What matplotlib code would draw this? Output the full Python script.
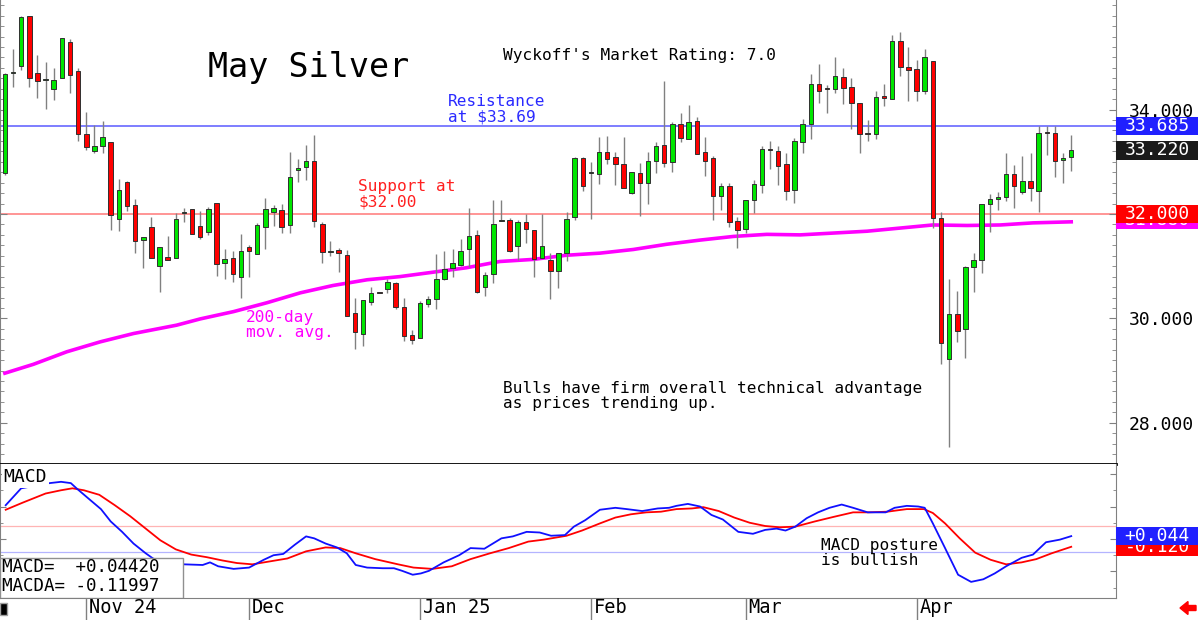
import numpy as np
import matplotlib
matplotlib.use("Agg")
import matplotlib.pyplot as plt
from matplotlib.patches import Rectangle, FancyArrow
from matplotlib.ticker import MultipleLocator, FixedLocator

plt.rcParams['font.family'] = ['DejaVu Sans Mono', 'DejaVu Sans']

# daily candles, May silver futures
opens = [32.78, 34.70, 34.84, 35.79, 34.71, 34.56, 34.39, 34.60, 35.30, 34.74,
         33.53, 33.21, 33.31, 33.37, 31.90, 32.61, 32.17, 31.50, 31.75, 31.00,
         31.17, 31.15, 32.02, 32.09, 31.77, 31.66, 32.21, 31.06, 31.16, 30.80,
         31.37, 31.23, 31.76, 32.03, 32.08, 31.78, 32.84, 32.91, 33.02, 31.81,
         31.28, 31.31, 31.21, 30.11, 29.70, 30.32, 30.50, 30.56, 30.67, 30.22,
         29.68, 29.63, 30.27, 30.37, 30.75, 30.97, 31.02, 31.33, 31.60, 30.61,
         30.85, 31.87, 31.89, 31.39, 31.84, 31.69, 31.15, 31.11, 30.91, 31.26,
         31.95, 33.07, 32.79, 32.77, 33.19, 33.09, 32.95, 32.41, 32.79, 32.59,
         33.02, 33.32, 33.00, 33.72, 33.44, 33.78, 33.18, 33.07, 32.35, 32.53,
         31.87, 31.71, 32.27, 32.56, 33.24, 33.21, 32.95, 32.46, 33.37, 33.72,
         34.50, 34.41, 34.39, 34.63, 34.43, 34.12, 33.54, 33.53, 34.26, 34.20,
         35.31, 34.82, 34.77, 34.36, 34.94, 31.92, 29.22, 30.08, 29.79, 30.99,
         31.12, 32.20, 32.28, 32.32, 32.77, 32.43, 32.64, 32.45, 33.57, 33.55,
         33.03, 33.09]
highs = [34.70, 35.17, 35.80, 35.80, 35.05, 34.92, 34.79, 35.38, 35.35, 34.79,
         33.95, 33.70, 33.78, 33.37, 32.67, 32.64, 32.28, 31.55, 31.94, 31.37,
         31.57, 32.01, 32.11, 32.09, 32.06, 32.14, 32.22, 31.32, 31.29, 31.61,
         31.40, 31.83, 32.31, 32.17, 32.19, 33.19, 33.05, 33.32, 33.51, 31.84,
         31.49, 31.34, 31.31, 30.40, 30.35, 30.61, 30.51, 30.75, 30.69, 30.39,
         29.78, 30.34, 30.43, 31.23, 31.29, 31.32, 31.53, 32.11, 31.69, 30.89,
         32.27, 32.27, 31.92, 31.89, 32.00, 31.69, 32.00, 31.25, 31.26, 32.04,
         33.10, 33.10, 33.00, 33.48, 33.49, 33.19, 33.47, 32.81, 32.97, 33.19,
         33.37, 34.55, 33.77, 33.94, 34.09, 33.86, 33.48, 33.11, 32.60, 32.59,
         31.95, 32.27, 32.65, 33.30, 33.39, 33.30, 33.16, 33.45, 33.82, 34.68,
         34.87, 34.47, 35.01, 34.79, 34.60, 34.12, 33.81, 34.36, 34.49, 35.43,
         35.48, 35.19, 34.96, 35.16, 34.94, 32.04, 30.75, 30.53, 31.00, 31.26,
         32.20, 32.38, 32.42, 33.16, 32.93, 33.11, 33.17, 33.69, 33.69, 33.69,
         33.16, 33.51]
lows = [32.75, 34.44, 34.76, 34.43, 34.22, 34.01, 34.18, 34.60, 34.32, 33.40,
        33.23, 33.17, 33.16, 31.69, 31.67, 32.06, 31.26, 30.97, 31.16, 30.50,
        31.11, 31.15, 31.84, 31.62, 31.53, 31.60, 30.82, 30.75, 30.70, 30.40,
        30.80, 31.23, 31.33, 31.77, 31.63, 31.64, 32.61, 32.66, 31.76, 31.06,
        31.20, 30.88, 30.05, 29.41, 29.47, 30.26, 30.48, 30.48, 30.18, 29.57,
        29.51, 29.63, 30.21, 30.18, 30.74, 30.79, 31.00, 30.99, 30.49, 30.42,
        30.67, 31.86, 31.28, 31.11, 31.45, 30.80, 31.15, 30.37, 30.58, 31.09,
        31.89, 32.45, 31.90, 32.57, 32.95, 32.56, 32.49, 32.38, 31.96, 32.20,
        32.78, 32.91, 32.80, 33.37, 33.44, 33.14, 32.73, 31.89, 32.08, 31.76,
        31.35, 31.64, 32.02, 32.40, 32.86, 32.56, 32.27, 32.22, 33.17, 33.43,
        34.13, 33.94, 34.32, 34.10, 33.62, 33.17, 33.39, 33.44, 34.07, 34.20,
        34.64, 34.16, 34.16, 34.29, 31.74, 29.12, 27.54, 29.55, 29.25, 30.51,
        30.86, 31.66, 32.08, 32.25, 32.11, 32.38, 32.25, 32.04, 33.13, 32.71,
        32.59, 32.82]
closes = [34.68, 34.72, 35.77, 34.61, 34.55, 34.57, 34.57, 35.38, 34.66, 33.53,
          33.29, 33.30, 33.47, 31.98, 32.46, 32.16, 31.49, 31.55, 31.16, 31.37,
          31.11, 31.90, 32.04, 31.62, 31.55, 32.09, 31.04, 31.14, 30.85, 31.30,
          31.29, 31.78, 32.09, 32.11, 31.76, 32.70, 32.89, 33.02, 31.87, 31.28,
          31.30, 31.25, 30.05, 29.73, 30.35, 30.49, 30.49, 30.69, 30.21, 29.66,
          29.59, 30.29, 30.37, 30.75, 30.95, 31.06, 31.30, 31.58, 30.51, 30.84,
          31.81, 31.89, 31.30, 31.84, 31.71, 31.14, 31.39, 30.91, 31.26, 31.90,
          33.07, 32.54, 32.81, 33.18, 33.05, 32.95, 32.49, 32.81, 32.59, 33.02,
          33.31, 32.98, 33.72, 33.45, 33.76, 33.15, 33.02, 32.35, 32.54, 31.85,
          31.69, 32.27, 32.57, 33.25, 33.22, 32.92, 32.45, 33.39, 33.72, 34.49,
          34.36, 34.40, 34.64, 34.41, 34.12, 33.53, 33.53, 34.24, 34.22, 35.31,
          34.82, 34.76, 34.36, 35.00, 31.93, 29.52, 30.08, 29.76, 30.98, 31.12,
          32.20, 32.28, 32.32, 32.77, 32.54, 32.64, 32.49, 33.56, 33.56, 33.02,
          33.08, 33.22]

# 200-day moving average (sampled along the line)
ma_idx = [0, 3.5, 7.6, 11.7, 15.8, 21.1, 24, 28.1, 32.2, 36.3, 40.3, 44.5, 48.5,
          56.7, 60.8, 64.9, 69, 73.1, 77.2, 81.3, 85.4, 89.5, 93.6, 97.7, 105.9,
          114, 118.2, 122.3, 126.3, 131]
ma_val = [28.95, 29.12, 29.36, 29.55, 29.71, 29.87, 29.99, 30.13, 30.30, 30.49,
          30.63, 30.74, 30.80, 30.97, 31.09, 31.13, 31.21, 31.25, 31.32, 31.42,
          31.50, 31.57, 31.61, 31.60, 31.67, 31.79, 31.78, 31.79, 31.83, 31.85]

# MACD (blue) and its signal line (red)
macd_idx = [0.1, 2.0, 5.5, 6.9, 8.1, 8.8, 10.2, 11.8, 13.0, 14.4, 15.8, 17.3, 18.2,
            20.1, 22.0, 24.3, 25.2, 26.2, 28.1, 30.0, 31.8, 33.0, 34.2, 35.6, 37.0,
            38.0, 39.4, 40.8, 42.0, 43.1, 44.5, 46.4, 47.8, 48.8, 50.1, 51.1, 52.1,
            53.9, 55.8, 57.2, 58.9, 61.0, 62.4, 64.1, 65.7, 67.1, 68.8, 69.9, 71.3,
            73.1, 75.0, 76.4, 78.3, 80.2, 81.6, 82.5, 83.9, 85.4, 86.8, 88.2, 90.1,
            91.9, 93.4, 94.8, 95.9, 97.1, 98.5, 99.9, 101.3, 102.8, 104.2, 106.0,
            108.2, 109.3, 110.8, 112.2, 113.0, 114.0, 115.5, 117.1, 118.7, 120.2,
            121.6, 123.0, 124.9, 126.3, 127.9, 129.6, 131.0]
macd_val = [0.52, 0.78, 0.86, 0.88, 0.86, 0.78, 0.63, 0.46, 0.27, 0.11, -0.07,
            -0.22, -0.30, -0.38, -0.39, -0.40, -0.36, -0.42, -0.46, -0.44, -0.32,
            -0.25, -0.23, -0.09, 0.04, 0.01, -0.07, -0.13, -0.22, -0.40, -0.44,
            -0.45, -0.45, -0.49, -0.55, -0.53, -0.49, -0.36, -0.25, -0.14, -0.15,
            0.01, 0.04, 0.11, 0.10, 0.05, 0.06, 0.19, 0.29, 0.45, 0.48, 0.46, 0.43,
            0.47, 0.48, 0.51, 0.54, 0.50, 0.37, 0.30, 0.11, 0.08, 0.14, 0.16, 0.13,
            0.19, 0.32, 0.41, 0.48, 0.53, 0.48, 0.41, 0.41, 0.48, 0.51, 0.50, 0.48,
            0.24, -0.14, -0.55, -0.66, -0.62, -0.53, -0.42, -0.29, -0.24, -0.05,
            -0.01, 0.044]
sig_idx = [0.1, 2.2, 5.0, 6.9, 8.3, 9.7, 11.6, 13.5, 15.4, 17.3, 19.1, 21.0, 22.9,
           24.8, 26.7, 28.5, 30.4, 32.3, 34.7, 37.0, 39.4, 41.2, 43.1, 45.5, 48.3,
           50.2, 52.5, 54.9, 57.2, 59.6, 61.9, 64.3, 66.2, 69.0, 70.9, 73.1, 75.0,
           76.9, 78.8, 80.6, 82.5, 84.4, 85.8, 87.7, 89.6, 91.5, 93.4, 95.2, 97.1,
           99.5, 101.8, 104.2, 106.0, 108.4, 110.8, 112.9, 114.0, 115.5, 117.3,
           119.2, 121.1, 123.0, 124.9, 126.7, 128.6, 131.0]
sig_val = [0.45, 0.56, 0.70, 0.75, 0.78, 0.75, 0.68, 0.52, 0.35, 0.16, -0.02, -0.16,
           -0.24, -0.28, -0.33, -0.37, -0.39, -0.35, -0.30, -0.19, -0.13, -0.14,
           -0.22, -0.31, -0.39, -0.44, -0.46, -0.42, -0.31, -0.22, -0.14, -0.04,
           -0.01, 0.05, 0.13, 0.24, 0.33, 0.38, 0.41, 0.42, 0.46, 0.47, 0.49, 0.43,
           0.33, 0.25, 0.20, 0.18, 0.19, 0.27, 0.34, 0.41, 0.41, 0.42, 0.46, 0.46,
           0.40, 0.24, 0.01, -0.21, -0.32, -0.39, -0.36, -0.31, -0.22, -0.12]

month_idx = [10, 30, 51, 72, 91, 112]
month_labels = ['Nov 24', 'Dec', 'Jan 25', 'Feb', 'Mar', 'Apr']

resistance = 33.685
support = 32.00
last_close = 33.22
last_ma = 31.88
macd_last = 0.04420
macda_last = -0.11997

fig = plt.figure(figsize=(12, 6.2), dpi=100)
ax = fig.add_axes([0.0, 0.2516, 0.93, 0.7484])
axm = fig.add_axes([0.0, 0.0355, 0.93, 0.2161], sharex=ax)

x = np.arange(len(closes))
o = np.array(opens); c = np.array(closes)
h = np.array(highs); l = np.array(lows)

# price panel
ax.axhline(resistance, color='#5a5aff', lw=1.1, zorder=1)
ax.axhline(support, color='#ff8c8c', lw=1.3, zorder=1)
ax.plot(ma_idx, ma_val, color='#ff00ff', lw=2.6, zorder=2)

up = c >= o
ax.vlines(x, l, h, color='#808080', lw=1, zorder=3)
body = np.maximum(np.abs(c - o), 0.02)
ax.bar(x[up], body[up], bottom=np.minimum(o, c)[up], width=0.55,
       color='#00e600', edgecolor='#303030', lw=0.7, zorder=4)
ax.bar(x[~up], body[~up], bottom=np.minimum(o, c)[~up], width=0.55,
       color='#ff0000', edgecolor='#303030', lw=0.7, zorder=4)

ax.set_xlim(-0.6, 136.5)
ax.set_ylim(27.21, 36.10)

ax.spines['top'].set_visible(False)
ax.spines['bottom'].set_color('black')
ax.spines['bottom'].set_linewidth(2)
ax.spines['right'].set_color('#808080')
ax.spines['left'].set_color('#808080')

# 32 is written in the red support box instead of as a plain tick label
ax.yaxis.set_major_locator(FixedLocator([28, 30, 32, 34]))
ax.yaxis.set_minor_locator(MultipleLocator(0.2))
ax.yaxis.set_major_formatter(plt.FuncFormatter(
    lambda v, p: '' if abs(v - support) < 1e-6 else '%.3f' % v))
ax.tick_params(axis='y', which='both', direction='in', left=True, right=True,
               labelleft=False, labelright=True, color='#808080', labelsize=13, pad=9)
ax.tick_params(axis='y', which='major', length=5)
ax.tick_params(axis='y', which='minor', length=3)
ax.tick_params(axis='x', bottom=False, labelbottom=False)

# right side value boxes; later boxes sit on top of earlier ones
def value_box(a, val, txt, fc, half, z):
    a.add_patch(Rectangle((1.0, val - half), 0.0735, 2 * half,
                          transform=a.get_yaxis_transform(), clip_on=False,
                          fc=fc, ec='none', zorder=z))
    a.text(1.0 + 0.0735 / 2, val, txt, transform=a.get_yaxis_transform(),
           ha='center', va='center', color='white', fontsize=13, zorder=z + 0.5,
           clip_on=False)

value_box(ax, last_ma, '%.3f' % last_ma, '#ff00ff', 0.17, 6)
value_box(ax, support, '%.3f' % support, '#ff0000', 0.18, 7)
value_box(ax, resistance, '%.3f' % resistance, '#2020ff', 0.17, 8)
value_box(ax, last_close, '%.3f' % last_close, '#1a1a1a', 0.18, 9)

# text annotations
ax.text(24.9, 34.80, 'May Silver', fontsize=24, va='center', ha='left')
ax.text(61.2, 35.03, "Wyckoff's Market Rating: 7.0", fontsize=11.6, va='center')
ax.text(54.4, 34.01, 'Resistance\nat $33.69', fontsize=11.6, va='center',
        color='#2a2aff', linespacing=1.0)
ax.text(43.4, 32.38, 'Support at\n$32.00', fontsize=11.6, va='center',
        color='#ff2020', linespacing=1.0)
ax.text(29.6, 29.87, '200-day\nmov. avg.', fontsize=11.6, va='center',
        color='#ff00ff', linespacing=1.0)
ax.text(61.2, 28.51, 'Bulls have firm overall technical advantage\nas prices trending up.',
        fontsize=11.6, va='center', linespacing=1.05)

# MACD panel
axm.axhline(0.2, color='#ffb4b4', lw=0.9, zorder=1)
axm.axhline(-0.2, color='#b4b4ff', lw=0.9, zorder=1)
axm.plot(sig_idx, sig_val, color='#ff0000', lw=1.3, zorder=3)
axm.plot(macd_idx, macd_val, color='#1010ff', lw=1.3, zorder=3)
axm.set_ylim(-0.908, 1.154)

axm.spines['top'].set_visible(False)
for s in ['bottom', 'right', 'left']:
    axm.spines[s].set_color('#808080')
axm.yaxis.set_major_locator(MultipleLocator(0.5))
axm.yaxis.set_minor_locator(MultipleLocator(0.25))
axm.tick_params(axis='y', which='both', direction='in', left=True, right=True,
                labelleft=False, labelright=False, color='#808080')
axm.tick_params(axis='y', which='major', length=4)
axm.tick_params(axis='y', which='minor', length=2)

axm.set_xticks(month_idx)
axm.set_xticklabels([''] * len(month_idx))
axm.tick_params(axis='x', direction='out', length=16, color='#808080', width=1)
for mi, lab in zip(month_idx, month_labels):
    axm.annotate(lab, xy=(mi, 0), xycoords=('data', 'axes fraction'),
                 xytext=(2, -6.5), textcoords='offset points', ha='left',
                 va='center', fontsize=13.4, annotation_clip=False)

value_box(axm, macda_last, '%+.3f' % macda_last, '#ff0000', 0.138, 6)
value_box(axm, macd_last, '%+.3f' % macd_last, '#2020ff', 0.138, 7)

axm.text(0.003, 0.90, 'MACD', transform=axm.transAxes, fontsize=13, va='center',
         ha='left', zorder=6,
         bbox=dict(boxstyle='square,pad=0.1', fc='white', ec='none'))
axm.add_patch(Rectangle((0, 0), 0.164, 0.30, transform=axm.transAxes,
                        fc='white', ec='#909090', lw=1, zorder=5))
axm.text(0.002, 0.16, 'MACD=  %+.5f\nMACDA= %+.5f' % (macd_last, macda_last),
         transform=axm.transAxes, fontsize=12.6, va='center', ha='left',
         linespacing=1.05, zorder=6)
axm.text(100.3, -0.215, 'MACD posture\nis bullish', fontsize=11.6, va='center',
         linespacing=1.0, zorder=6)

# little corner marks
fig.patches.append(Rectangle((0.0, 0.05), 0.07, 0.12, transform=fig.dpi_scale_trans,
                             fc='black', ec='#a0a0a0', lw=1))
fig.patches.append(FancyArrow(11.96, 0.12, -0.16, 0, width=0.05, head_width=0.13,
                              head_length=0.08, length_includes_head=True,
                              transform=fig.dpi_scale_trans, color='#ff0000'))

fig.savefig('out.png', dpi=100)
